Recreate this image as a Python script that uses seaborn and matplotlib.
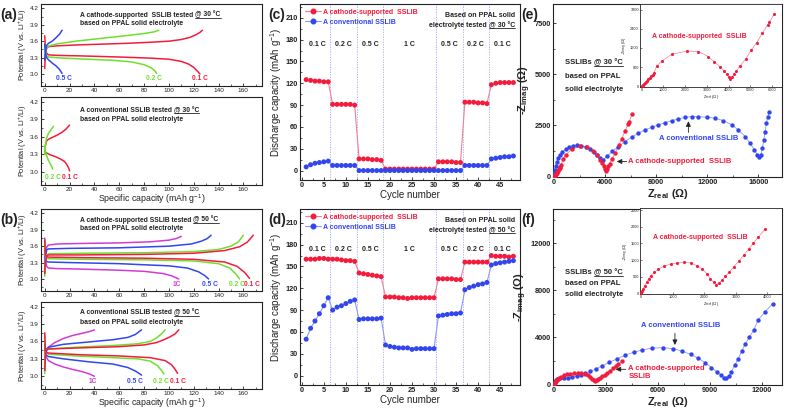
import numpy as np
import pandas as pd
import matplotlib
matplotlib.use("Agg")
import matplotlib.pyplot as plt
import seaborn as sns
from matplotlib.ticker import MultipleLocator, AutoMinorLocator
from matplotlib.lines import Line2D

# ---------------- data ----------------
# (a) top: cathode-supported SSLIB @ 30 C  (capacity mAh/g, potential V)
a_cs_01_chg_cap = [0, 0.5, 1.5, 3, 10, 25, 45, 65, 85, 100, 110, 117, 122, 125, 127]
a_cs_01_chg_v = [3.10, 3.35, 3.47, 3.50, 3.515, 3.53, 3.545, 3.56, 3.58, 3.60, 3.63, 3.67, 3.72, 3.76, 3.80]
a_cs_01_dch_cap = [0, 0.5, 1.5, 3, 10, 30, 60, 85, 100, 110, 116, 120, 123, 125]
a_cs_01_dch_v = [3.70, 3.50, 3.38, 3.35, 3.34, 3.33, 3.31, 3.29, 3.27, 3.23, 3.18, 3.12, 3.05, 3.00]
a_cs_02_chg_cap = [0, 0.5, 1.5, 3, 10, 25, 45, 65, 80, 88, 92]
a_cs_02_chg_v = [3.30, 3.40, 3.48, 3.51, 3.55, 3.60, 3.65, 3.70, 3.74, 3.77, 3.80]
a_cs_02_dch_cap = [0, 0.5, 1.5, 3, 15, 35, 55, 70, 80, 86, 89, 90]
a_cs_02_dch_v = [3.55, 3.42, 3.33, 3.31, 3.29, 3.27, 3.25, 3.22, 3.17, 3.11, 3.05, 3.01]
a_cs_05_chg_cap = [0, 0.5, 1.5, 3, 6, 9, 12, 14]
a_cs_05_chg_v = [3.25, 3.40, 3.52, 3.56, 3.60, 3.66, 3.73, 3.80]
a_cs_05_dch_cap = [0, 0.5, 1.5, 3, 6, 9, 12, 14]
a_cs_05_dch_v = [3.55, 3.40, 3.30, 3.26, 3.20, 3.15, 3.08, 3.01]

# (a) bottom: conventional SSLIB @ 30 C
a_cv_01_chg_cap = [0, 0.5, 1.5, 3, 6, 10, 14, 17, 20]
a_cv_01_chg_v = [3.30, 3.45, 3.53, 3.56, 3.59, 3.63, 3.68, 3.73, 3.80]
a_cv_01_dch_cap = [0, 0.5, 2, 5, 9, 13, 16, 18, 19.5, 20]
a_cv_01_dch_v = [3.36, 3.34, 3.32, 3.29, 3.26, 3.22, 3.18, 3.12, 3.06, 3.02]
a_cv_02_chg_cap = [0, 0.5, 1.5, 3, 5, 7]
a_cv_02_chg_v = [3.30, 3.45, 3.58, 3.66, 3.72, 3.78]
a_cv_02_dch_cap = [0, 0.5, 1.5, 3, 5, 6.5]
a_cv_02_dch_v = [3.45, 3.35, 3.28, 3.20, 3.12, 3.05]

# (b) top: cathode-supported SSLIB @ 50 C
b_cs_1_chg_cap = [0, 0.5, 1.5, 3, 10, 30, 60, 85, 100, 106, 110]
b_cs_1_chg_v = [3.10, 3.40, 3.58, 3.62, 3.64, 3.65, 3.66, 3.68, 3.71, 3.74, 3.78]
b_cs_1_dch_cap = [0, 0.5, 1.5, 3, 10, 30, 60, 80, 95, 102, 106, 108]
b_cs_1_dch_v = [3.75, 3.40, 3.23, 3.20, 3.19, 3.18, 3.16, 3.14, 3.10, 3.06, 3.02, 3.00]
b_cs_05_chg_cap = [0, 0.5, 1.5, 3, 20, 60, 100, 118, 126, 131, 134]
b_cs_05_chg_v = [3.20, 3.40, 3.53, 3.55, 3.56, 3.57, 3.60, 3.64, 3.69, 3.74, 3.80]
b_cs_05_dch_cap = [0, 0.5, 1.5, 3, 20, 60, 100, 115, 124, 129, 132]
b_cs_05_dch_v = [3.65, 3.40, 3.32, 3.31, 3.30, 3.28, 3.24, 3.20, 3.13, 3.06, 3.00]
b_cs_02_chg_cap = [0, 0.5, 1.5, 3, 30, 80, 120, 140, 150, 156, 160]
b_cs_02_chg_v = [3.05, 3.30, 3.44, 3.46, 3.47, 3.48, 3.50, 3.54, 3.60, 3.68, 3.80]
b_cs_02_dch_cap = [0, 0.5, 1.5, 3, 30, 80, 120, 140, 149, 154, 157]
b_cs_02_dch_v = [3.70, 3.45, 3.38, 3.37, 3.36, 3.35, 3.33, 3.28, 3.20, 3.09, 3.00]
b_cs_01_chg_cap = [0, 0.5, 1.5, 3, 30, 80, 120, 145, 157, 163, 168]
b_cs_01_chg_v = [3.10, 3.30, 3.42, 3.44, 3.44, 3.45, 3.47, 3.52, 3.59, 3.67, 3.80]
b_cs_01_dch_cap = [0, 0.5, 1.5, 3, 30, 80, 120, 145, 155, 161, 165]
b_cs_01_dch_v = [3.72, 3.45, 3.41, 3.40, 3.39, 3.38, 3.36, 3.31, 3.23, 3.12, 3.01]

# (b) bottom: conventional SSLIB @ 50 C
b_cv_1_chg_cap = [0, 0.5, 1.5, 3, 8, 15, 22, 30, 36, 40]
b_cv_1_chg_v = [3.10, 3.35, 3.45, 3.50, 3.58, 3.65, 3.70, 3.74, 3.77, 3.80]
b_cv_1_dch_cap = [0, 0.5, 1.5, 3, 8, 15, 22, 30, 36, 40]
b_cv_1_dch_v = [3.50, 3.38, 3.32, 3.27, 3.21, 3.16, 3.12, 3.08, 3.04, 3.00]
b_cv_05_chg_cap = [0, 0.5, 1.5, 3, 15, 35, 55, 67, 73, 78]
b_cv_05_chg_v = [3.10, 3.38, 3.47, 3.50, 3.55, 3.59, 3.63, 3.67, 3.72, 3.80]
b_cv_05_dch_cap = [0, 0.5, 1.5, 3, 15, 35, 55, 67, 73, 78]
b_cv_05_dch_v = [3.55, 3.40, 3.36, 3.34, 3.30, 3.25, 3.21, 3.15, 3.09, 3.02]
b_cv_02_chg_cap = [0, 0.5, 1.5, 3, 25, 55, 75, 85, 90, 94, 97]
b_cv_02_chg_v = [3.05, 3.35, 3.45, 3.47, 3.50, 3.53, 3.56, 3.60, 3.66, 3.73, 3.80]
b_cv_02_dch_cap = [0, 0.5, 1.5, 3, 25, 55, 75, 85, 91, 94, 96]
b_cv_02_dch_v = [3.70, 3.45, 3.40, 3.38, 3.35, 3.32, 3.30, 3.26, 3.18, 3.10, 3.04]
b_cv_01_chg_cap = [0, 0.5, 1.5, 3, 30, 60, 80, 90, 96, 101, 105, 108]
b_cv_01_chg_v = [3.10, 3.35, 3.45, 3.47, 3.49, 3.51, 3.54, 3.58, 3.63, 3.68, 3.73, 3.80]
b_cv_01_dch_cap = [0, 0.5, 1.5, 3, 30, 60, 85, 97, 102, 105, 107]
b_cv_01_dch_v = [3.75, 3.45, 3.41, 3.40, 3.37, 3.35, 3.32, 3.27, 3.20, 3.12, 3.05]

# (c)/(d) rate capability, cycles 1..48
cycles = list(range(1, 49))
rate_names = ["0.1 C", "0.2 C", "0.5 C", "1 C", "0.5 C", "0.2 C", "0.1 C"]
rate_centers = [3.5, 9.5, 15.5, 24.5, 33.5, 39.5, 45.5]
rate_bounds = [6.5, 12.5, 18.5, 30.5, 36.5, 42.5]
c_cs = [125, 124, 123, 123, 122, 122, 91, 91, 91, 91, 91, 90, 16, 16, 16, 15, 15, 14,
        2, 2, 2, 2, 2, 2, 2, 2, 2, 2, 2, 2, 12, 12, 12, 12, 11, 11,
        94, 94, 94, 93, 93, 92, 118, 120, 121, 121, 121, 121]
c_cv = [5, 8, 10, 11, 12, 13, 7, 7, 7, 7, 7, 7, 0, 0, 0, 0, 0, 0,
        0, 0, 0, 0, 0, 0, 0, 0, 0, 0, 0, 0, 0, 0, 0, 0, 0, 0,
        7, 7, 7, 7, 7, 7, 16, 17, 18, 19, 19, 20]
d_cs = [160, 160, 160, 161, 161, 160, 160, 160, 159, 158, 158, 157, 141, 140, 139, 138, 137, 136,
        108, 108, 108, 107, 107, 106, 107, 107, 107, 107, 107, 107, 133, 133, 133, 133, 132, 132,
        156, 156, 156, 156, 156, 156, 165, 164, 164, 164, 163, 164]
d_cv = [50, 65, 75, 85, 96, 107, 90, 94, 96, 99, 102, 104, 77, 78, 78, 78, 78, 79,
        42, 40, 39, 38, 38, 38, 36, 37, 37, 37, 37, 37, 82, 83, 84, 85, 85, 86,
        118, 121, 123, 125, 126, 128, 152, 154, 155, 156, 157, 158]

# (e) EIS @ 30 C (ohm)
e_cs_re = [0, 40, 80, 120, 160, 200, 250, 300, 360, 430, 500, 560, 690, 920, 1380, 2070, 2610,
           3070, 3330, 3610, 3790, 3920, 4020, 4070, 4150, 4250, 4350, 4530, 4790, 5050, 5300,
           5560, 5800, 5880, 6110]
e_cs_im = [0, 30, 60, 100, 140, 180, 230, 280, 340, 410, 480, 560, 840, 1050, 1330, 1470, 1450,
           1240, 1025, 815, 645, 505, 365, 280, 365, 490, 630, 840, 1137, 1516, 1825,
           2220, 2570, 2680, 3030]
e_cv_re = [0, 30, 70, 120, 200, 300, 450, 650, 900, 1200, 1500, 1800, 2150, 2500, 2800, 3100,
           3350, 3600, 3800, 4125, 4570, 5040, 5560, 6080, 6600, 7130, 7650, 8170, 8690, 9220,
           9740, 10260, 10780, 11300, 11960, 12610, 13260, 13920, 14440, 14960, 15350, 15690,
           15930, 16080, 16210, 16320, 16420, 16530, 16630, 16740, 16840]
e_cv_im = [0, 150, 320, 500, 700, 880, 1050, 1200, 1330, 1430, 1500, 1530, 1510, 1440, 1330, 1180,
           1030, 880, 790, 975, 1220, 1463, 1707, 1919, 2114, 2276, 2406, 2520, 2634, 2732,
           2813, 2894, 2927, 2927, 2894, 2845, 2732, 2520, 2276, 1951, 1626, 1300,
           1057, 943, 1057, 1382, 1789, 2195, 2602, 2927, 3171]

# (f) EIS @ 50 C (ohm)
f_cs_re = [0, 30, 75, 115, 180, 240, 315, 420, 555, 735, 945, 1150, 1360, 1570, 1780, 1940, 2100,
           2200, 2310, 2380, 2460, 2570, 2670, 2800, 2935, 3090, 3250, 3410, 3560, 3720, 3930]
f_cs_im = [0, 60, 130, 230, 330, 430, 530, 630, 730, 810, 880, 910, 930, 910, 830, 730, 580,
           430, 330, 260, 300, 400, 510, 640, 790, 960, 1140, 1330, 1510, 1690, 1930]
f_cv_re = [0, 40, 100, 200, 350, 550, 800, 1050, 1300, 1550, 1800, 2100, 2450, 2800, 3200, 3650,
           4100, 4600, 5100, 5650, 6300, 6900, 7400, 7900, 8350, 8750, 9100, 9400, 9650, 9850,
           9950, 10100, 10250, 10450, 10650, 10850, 11050, 11300, 11550, 11800, 12200, 12650]
f_cv_im = [0, 200, 330, 420, 470, 490, 510, 560, 640, 760, 900, 1080, 1300, 1550, 1850, 2150,
           2450, 2700, 2900, 3050, 3100, 3000, 2800, 2520, 2180, 1800, 1400, 1050, 750, 550,
           480, 650, 1050, 1600, 2150, 2800, 3400, 4000, 4600, 5450, 6150, 6850]

RED = "#f21d3d"
RED_LINE = "#f47e96"
BLUE = "#3246ee"
BLUE_LINE = "#8f98f2"
GREEN = "#6ee02c"
MAGENTA = "#d23cd6"
INK = "#222222"

sns.set_theme(style="ticks")
plt.rcParams.update({
    "font.family": ["Liberation Sans", "DejaVu Sans"],
    "mathtext.default": "regular",
    "axes.linewidth": 0.8,
    "axes.edgecolor": INK,
    "axes.labelcolor": INK,
    "xtick.color": INK,
    "ytick.color": INK,
    "xtick.direction": "in",
    "ytick.direction": "in",
    "xtick.major.size": 2.5,
    "ytick.major.size": 2.5,
    "xtick.minor.size": 1.4,
    "ytick.minor.size": 1.4,
    "xtick.major.width": 0.6,
    "ytick.major.width": 0.6,
    "xtick.minor.width": 0.5,
    "ytick.minor.width": 0.5,
    "xtick.major.pad": 1.5,
    "ytick.major.pad": 1.5,
})

W, H = 786, 409
fig = plt.figure(figsize=(W / 100, H / 100), dpi=100)


def px_axes(l, t, r, b):
    return fig.add_axes([l / W, 1 - b / H, (r - l) / W, (b - t) / H])


underlined = []


def underline_text(ax, x, y, pre, mid, size, color=INK, ha="left", transform=None):
    kw = dict(fontsize=size, fontweight="bold", color=color)
    tr = transform if transform is not None else ax.transData
    if ha == "left":
        t1 = ax.text(x, y, pre, ha="left", va="baseline", transform=tr, **kw)
        t2 = ax.annotate(mid, xy=(1, 0), xycoords=t1, ha="left", va="bottom", **kw)
    else:
        t2 = ax.text(x, y, mid, ha="right", va="baseline", transform=tr, **kw)
        ax.annotate(pre, xy=(0, 0), xycoords=t2, ha="right", va="bottom", **kw)
    underlined.append((t2, color))


def style_ticks(ax, size, bold=False):
    ax.tick_params(which="both", top=False, right=False, labelsize=size)
    if bold:
        for lab in ax.get_xticklabels() + ax.get_yticklabels():
            lab.set_fontweight("bold")


def gcd_panel(ax, curves, labels, label_v, pre, mid, line2, tx, ty1, ty2, xlabel):
    rows = []
    for name, color, cc, cv, dc, dv in curves:
        rows += [(c, v, name, name + "-chg") for c, v in zip(cc, cv)]
        rows += [(c, v, name, name + "-dch") for c, v in zip(dc, dv)]
    df = pd.DataFrame(rows, columns=["cap", "volt", "rate", "branch"])
    pal = {name: color for name, color, *_ in curves}
    sns.lineplot(data=df, x="cap", y="volt", hue="rate", units="branch", estimator=None,
                 sort=False, palette=pal, legend=False, linewidth=1.1, ax=ax)
    ax.set_xlim(-3, 175)
    ax.set_ylim(2.78, 4.28)
    ax.xaxis.set_major_locator(MultipleLocator(20))
    ax.xaxis.set_minor_locator(MultipleLocator(10))
    ax.yaxis.set_major_locator(MultipleLocator(0.3))
    ax.yaxis.set_minor_locator(MultipleLocator(0.15))
    ax.yaxis.set_major_formatter(matplotlib.ticker.FormatStrFormatter("%.1f"))
    style_ticks(ax, 4.6)
    ax.set_ylabel("Potential (V vs. Li$^{+}$/Li)", fontsize=5.3, labelpad=1)
    ax.set_xlabel("Specific capacity (mAh g$^{-1}$)" if xlabel else "", fontsize=6.3, labelpad=0)
    for text, x, color in labels:
        ax.text(x, label_v, text, color=color, fontsize=4.8, fontweight="bold",
                ha="center", va="center")
    underline_text(ax, tx, ty1, pre, mid, 4.9)
    ax.text(tx, ty2, line2, fontsize=4.9, fontweight="bold", color=INK, va="baseline")


# ---------------- (a) ----------------
ax = px_axes(41, 4, 262, 86)
gcd_panel(ax,
          [("0.1", RED, a_cs_01_chg_cap, a_cs_01_chg_v, a_cs_01_dch_cap, a_cs_01_dch_v),
           ("0.2", GREEN, a_cs_02_chg_cap, a_cs_02_chg_v, a_cs_02_dch_cap, a_cs_02_dch_v),
           ("0.5", BLUE, a_cs_05_chg_cap, a_cs_05_chg_v, a_cs_05_dch_cap, a_cs_05_dch_v)],
          [("0.5 C", 15.6, BLUE), ("0.2 C", 88, GREEN), ("0.1 C", 125, RED)], 2.91,
          "A cathode-supported  SSLIB tested ", "@ 30 \u00b0C",
          "based on PPAL solid electrolyte", 28.5, 4.05, 3.894, False)

ax = px_axes(41, 97, 262, 185)
gcd_panel(ax,
          [("0.1", RED, a_cv_01_chg_cap, a_cv_01_chg_v, a_cv_01_dch_cap, a_cv_01_dch_v),
           ("0.2", GREEN, a_cv_02_chg_cap, a_cv_02_chg_v, a_cv_02_dch_cap, a_cv_02_dch_v)],
          [("0.2 C", 7, GREEN), ("0.1 C", 20.4, RED)], 2.915,
          "A conventional SSLIB tested ", "@ 30 \u00b0C",
          "based on PPAL solid electrolyte", 28.5, 4.027, 3.864, True)

# ---------------- (b) ----------------
ax = px_axes(41, 209, 262, 291)
gcd_panel(ax,
          [("1", MAGENTA, b_cs_1_chg_cap, b_cs_1_chg_v, b_cs_1_dch_cap, b_cs_1_dch_v),
           ("0.5", BLUE, b_cs_05_chg_cap, b_cs_05_chg_v, b_cs_05_dch_cap, b_cs_05_dch_v),
           ("0.2", GREEN, b_cs_02_chg_cap, b_cs_02_chg_v, b_cs_02_dch_cap, b_cs_02_dch_v),
           ("0.1", RED, b_cs_01_chg_cap, b_cs_01_chg_v, b_cs_01_dch_cap, b_cs_01_dch_v)],
          [("1C", 106, MAGENTA), ("0.5 C", 133, BLUE), ("0.2 C", 155, GREEN), ("0.1 C", 167, RED)],
          2.89, "A cathode-supported SSLIB tested ", "@ 50 \u00b0C",
          "based on PPAL solid electrolyte", 28.5, 4.05, 3.894, False)

ax = px_axes(41, 302, 262, 389)
gcd_panel(ax,
          [("1", MAGENTA, b_cv_1_chg_cap, b_cv_1_chg_v, b_cv_1_dch_cap, b_cv_1_dch_v),
           ("0.5", BLUE, b_cv_05_chg_cap, b_cv_05_chg_v, b_cv_05_dch_cap, b_cv_05_dch_v),
           ("0.2", GREEN, b_cv_02_chg_cap, b_cv_02_chg_v, b_cv_02_dch_cap, b_cv_02_dch_v),
           ("0.1", RED, b_cv_01_chg_cap, b_cv_01_chg_v, b_cv_01_dch_cap, b_cv_01_dch_v)],
          [("1C", 39, MAGENTA), ("0.5 C", 73, BLUE), ("0.2 C", 94, GREEN), ("0.1 C", 107, RED)],
          2.915, "A conventional SSLIB tested ", "@ 50 \u00b0C",
          "based on PPAL solid electrolyte", 28.5, 4.07, 3.905, True)


# ---------------- (c) / (d) ----------------
def rate_panel(ax, cs, cv, temp):
    df = pd.DataFrame({"cycle": cycles + cycles, "cap": cs + cv,
                       "cell": ["cs"] * len(cs) + ["cv"] * len(cv)})
    for b in rate_bounds:
        ax.axvline(b, color="#a4a8f0", lw=0.6, ls=(0, (1.5, 1.5)), zorder=0)
    sns.lineplot(data=df, x="cycle", y="cap", hue="cell", palette={"cs": RED_LINE, "cv": BLUE_LINE},
                 legend=False, linewidth=0.8, ax=ax)
    sns.scatterplot(data=df, x="cycle", y="cap", hue="cell", palette={"cs": RED, "cv": BLUE},
                    legend=False, s=13, linewidth=0, ax=ax, zorder=3)
    ax.set_xlim(-0.4, 49.5)
    ax.set_ylim(-13, 229)
    ax.xaxis.set_major_locator(MultipleLocator(5))
    ax.xaxis.set_minor_locator(MultipleLocator(2.5))
    ax.yaxis.set_major_locator(MultipleLocator(30))
    ax.yaxis.set_minor_locator(MultipleLocator(15))
    style_ticks(ax, 5.3, bold=True)
    ax.set_xlabel("Cycle number", fontsize=7, labelpad=0.5)
    ax.set_ylabel("Discharge capacity (mAh g$^{-1}$)", fontsize=7, labelpad=1)
    for name, x in zip(rate_names, rate_centers):
        ax.text(x, 173, name, fontsize=5, fontweight="bold", color=INK, ha="center", va="center")
    handles = [Line2D([], [], color=RED_LINE, lw=0.8, marker="o", ms=3.3, mfc=RED, mec=RED),
               Line2D([], [], color=BLUE_LINE, lw=0.8, marker="o", ms=3.3, mfc=BLUE, mec=BLUE)]
    leg = ax.legend(handles, ["A cathode-supported  SSLIB", "A conventional SSLIB"],
                    loc="upper left", bbox_to_anchor=(0.0, 1.0), frameon=False,
                    prop={"size": 5, "weight": "bold"}, handlelength=2.4, handletextpad=0.3,
                    labelspacing=0.45, borderaxespad=0.35, borderpad=0.3)
    for txt, col in zip(leg.get_texts(), [RED, BLUE]):
        txt.set_color(col)
    ax.text(0.977, 0.926, "Based on PPAL solid", transform=ax.transAxes, ha="right",
            va="baseline", fontsize=5, fontweight="bold", color=INK)
    underline_text(ax, 0.977, 0.869, "electrolyte tested ", "@ %d \u00b0C" % temp, 5,
                   ha="right", transform=ax.transAxes)


rate_panel(px_axes(300, 4, 520, 180), c_cs, c_cv, 30)
rate_panel(px_axes(300, 209, 520, 385), d_cs, d_cv, 50)


# ---------------- (e) / (f) ----------------
def eis_series(ax, re, im, dark, light, size, lw=0.6):
    df = pd.DataFrame({"re": re, "im": im})
    sns.lineplot(data=df, x="re", y="im", sort=False, color=light, lw=lw, ax=ax)
    sns.scatterplot(data=df, x="re", y="im", color=dark, s=size, linewidth=0, ax=ax, zorder=3)


def eis_main(ax, cs_re, cs_im, cv_re, cv_im, xlim, ylim, xstep, ystep):
    eis_series(ax, cv_re, cv_im, BLUE, BLUE_LINE, 10)
    eis_series(ax, cs_re, cs_im, RED, RED_LINE, 10)
    ax.set_xlim(*xlim)
    ax.set_ylim(*ylim)
    ax.xaxis.set_major_locator(MultipleLocator(xstep))
    ax.xaxis.set_minor_locator(MultipleLocator(xstep / 2))
    ax.yaxis.set_major_locator(MultipleLocator(ystep))
    ax.yaxis.set_minor_locator(MultipleLocator(ystep / 2))
    style_ticks(ax, 5.3, bold=True)
    ax.set_xlabel("Z$_{real}$ ($\\Omega$)", fontsize=8, fontweight="bold", labelpad=0.5)
    ax.set_ylabel("-Z$_{imag}$ ($\\Omega$)", fontsize=8, fontweight="bold", labelpad=1)


def eis_inset(ax, re, im, xlim, ylim, xstep, ystep, tx, ty):
    ax.set_facecolor("white")
    eis_series(ax, re, im, RED, RED_LINE, 5, lw=0.5)
    ax.set_xlim(*xlim)
    ax.set_ylim(*ylim)
    ax.xaxis.set_major_locator(MultipleLocator(xstep))
    ax.yaxis.set_major_locator(MultipleLocator(ystep))
    ax.tick_params(which="both", top=False, right=False, labelsize=2.8, length=1.2, width=0.4, pad=0.8)
    for sp in ax.spines.values():
        sp.set_linewidth(0.6)
    ax.set_xlabel("Z$_{real}$ ($\\Omega$)", fontsize=3, labelpad=0.5)
    ax.set_ylabel("-Z$_{imag}$ ($\\Omega$)", fontsize=3, labelpad=0.5)
    ax.text(tx, ty, "A cathode-supported  SSLIB", fontsize=5, fontweight="bold", color=RED,
            va="center")


arrow = dict(arrowstyle="-|>,head_length=0.25,head_width=0.12", color=INK, lw=0.6,
             shrinkA=0, shrinkB=0)

ax = px_axes(553, 4, 782, 177)
eis_main(ax, e_cs_re, e_cs_im, e_cv_re, e_cv_im, (-80, 17850), (-30, 8440), 4000, 2500)
underline_text(ax, 860, 5480, "SSLIBs ", "@ 30 \u00b0C", 5.5)
ax.text(860, 4830, "based on PPAL", fontsize=5.5, fontweight="bold", color=INK, va="baseline")
ax.text(860, 4180, "solid electrolyte", fontsize=5.5, fontweight="bold", color=INK, va="baseline")
ax.text(11360, 1870, "A conventional SSLIB", fontsize=5.5, fontweight="bold", color=BLUE,
        ha="center", va="center")
ax.annotate("", xy=(10520, 2700), xytext=(10520, 2150), arrowprops=arrow)
ax.text(5820, 730, "A cathode-supported  SSLIB", fontsize=5.5, fontweight="bold", color=RED,
        va="center")
ax.annotate("", xy=(4910, 730), xytext=(5690, 730), arrowprops=arrow)
ax_in = px_axes(640, 4, 782, 87)
eis_inset(ax_in, e_cs_re, e_cs_im, (-80, 6465), (-40, 3450), 1000, 800, 460, 2100)

ax = px_axes(553, 209, 782, 385)
eis_main(ax, f_cs_re, f_cs_im, f_cv_re, f_cv_im, (-60, 13180), (-85, 14900), 3000, 4000)
underline_text(ax, 640, 9330, "SSLIBs ", "@ 50 \u00b0C", 5.5)
ax.text(640, 8430, "based on PPAL", fontsize=5.5, fontweight="bold", color=INK, va="baseline")
ax.text(640, 7490, "solid electrolyte", fontsize=5.5, fontweight="bold", color=INK, va="baseline")
ax.text(7340, 5020, "A conventional SSLIB", fontsize=5.5, fontweight="bold", color=BLUE,
        ha="center", va="center")
ax.annotate("", xy=(6990, 3320), xytext=(6990, 4310), arrowprops=arrow)
ax.text(4300, 1330, "A cathode-supported", fontsize=5.5, fontweight="bold", color=RED, va="center")
ax.text(4300, 620, "SSLIB", fontsize=5.5, fontweight="bold", color=RED, va="center")
ax.annotate("", xy=(3560, 1250), xytext=(4150, 1250), arrowprops=arrow)
ax_in = px_axes(640, 208, 782, 294)
eis_inset(ax_in, f_cs_re, f_cs_im, (-30, 4465), (-20, 2560), 1000, 500, 367, 1677)

# panel letters
for txt, x, y in [("(a)", 0, 15), ("(b)", 0, 220), ("(c)", 268, 15), ("(d)", 268, 220),
                  ("(e)", 521, 15), ("(f)", 521, 220)]:
    fig.text(x / W, 1 - y / H, txt, fontsize=10, fontweight="bold", color=INK, va="center")

# underline the "@ xx C" parts
fig.canvas.draw()
renderer = fig.canvas.get_renderer()
for t, col in underlined:
    bb = t.get_window_extent(renderer)
    yy = (bb.y0 + 0.6) / H
    fig.add_artist(Line2D([bb.x0 / W, bb.x1 / W], [yy, yy], transform=fig.transFigure,
                          color=col, lw=0.6))

fig.savefig("out.png", dpi=100)
